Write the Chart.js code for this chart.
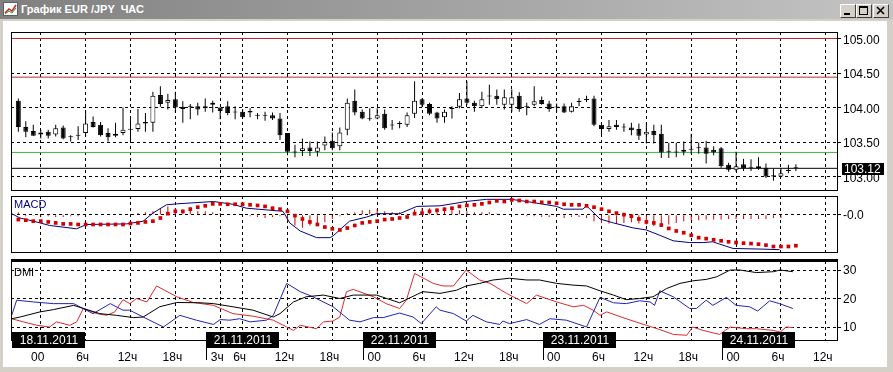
<!DOCTYPE html>
<html>
<head>
<meta charset="utf-8">
<script src="https://cdn.jsdelivr.net/npm/chart.js@4.4.0/dist/chart.umd.min.js"></script>
<style>
  html, body { margin: 0; padding: 0; }
  body { width: 893px; height: 372px; background: #d4d0c8; position: relative; overflow: hidden; font-family: "Liberation Sans", Arial, sans-serif; }
  #titlebar { position: absolute; left: 0; top: 0; width: 893px; height: 19px; background: linear-gradient(to right, #808080, #c4c4c4); }
  #titlebar .txt { position: absolute; left: 21px; top: 3px; color: #fff; font-weight: bold; font-size: 11px; white-space: pre; }
  #titlebar .ico { position: absolute; left: 3px; top: 2px; }
  .btn { position: absolute; top: 4px; width: 16px; height: 14px; box-sizing: border-box; background: #d4d0c8;
         border: 1px solid; border-color: #fff #404040 #404040 #fff; }
  .btn svg { position: absolute; left: 0; top: 0; }
  #client { position: absolute; left: 3px; top: 21px; width: 884px; height: 346px; background: #fff; }
  canvas { position: absolute; left: 0; }
</style>
</head>
<body>
<div id="titlebar">
  <svg class="ico" width="16" height="15"><rect x="0.5" y="0.5" width="14" height="13" fill="#fff" stroke="#606060"/><polyline points="2,11 6,7 9,9 13,3" fill="none" stroke="#d02020" stroke-width="1.5"/><polyline points="2,12 6,9 9,11 13,6" fill="none" stroke="#20a020" stroke-width="1"/></svg>
  <span class="txt">График EUR /JPY  ЧАС</span>
  <div class="btn" style="left:840px"><svg width="14" height="12"><rect x="3" y="8" width="6" height="2" fill="#000"/></svg></div>
  <div class="btn" style="left:856px"><svg width="14" height="12"><rect x="2.5" y="1.5" width="8" height="8" fill="none" stroke="#000"/><rect x="2" y="1" width="9" height="2" fill="#000"/></svg></div>
  <div class="btn" style="left:873px"><svg width="14" height="12"><path d="M3,2 L10,9 M10,2 L3,9" stroke="#000" stroke-width="1.6"/></svg></div>
</div>
<div id="client"></div>
<canvas id="price" width="893" height="173" style="top:22px"></canvas>
<canvas id="macd" width="893" height="64" style="top:192px"></canvas>
<canvas id="dmi" width="893" height="116" style="top:256px"></canvas>
<script>
// ---- candles (hourly bars, index 0 = first bar on the left) ----
const opens  = [104.10,103.72,103.66,103.64,103.65,103.61,103.71,103.58,103.59,103.63,103.79,103.75,103.63,103.62,103.63,103.69,103.69,103.79,103.78,104.18,
                104.07,104.12,104.01,104.01,104.02,103.99,104.07,104.00,104.02,103.94,103.94,103.95,103.88,103.88,103.89,103.84,103.63,103.36,103.37,103.42,
                103.36,103.45,103.52,103.44,103.68,104.10,103.94,103.84,103.84,103.91,103.75,103.76,103.75,103.91,104.12,104.05,103.93,103.86,103.98,104.01,
                104.13,104.07,104.02,104.16,104.17,104.04,104.04,104.17,104.01,104.04,104.11,104.06,104.00,104.02,103.94,104.08,104.11,104.13,103.75,103.69,
                103.75,103.71,103.71,103.69,103.61,103.66,103.62,103.37,103.35,103.36,103.40,103.41,103.42,103.39,103.41,103.17,103.10,103.18,103.13,103.15,
                103.13,103.02,103.00,103.08,103.12];
const highs  = [104.13,103.80,103.75,103.68,103.68,103.75,103.74,103.60,103.73,103.95,103.87,103.79,103.70,103.78,104.00,103.87,103.98,103.92,104.23,104.31,
                104.20,104.23,104.09,104.05,104.07,104.13,104.10,104.00,104.09,104.02,103.98,103.99,103.92,103.94,103.93,103.92,103.63,103.46,103.55,103.51,
                103.51,103.58,103.64,103.71,104.13,104.26,103.97,103.99,103.99,103.97,103.82,103.80,103.93,104.38,104.13,104.07,103.94,103.97,104.02,104.21,
                104.38,104.10,104.23,104.33,104.26,104.26,104.26,104.22,104.07,104.31,104.16,104.10,104.06,104.06,104.07,104.14,104.17,104.17,103.78,103.82,
                103.82,103.77,103.78,103.77,103.78,103.75,103.75,103.49,103.49,103.51,103.62,103.49,103.52,103.44,103.43,103.20,103.36,103.26,103.25,103.28,
                103.19,103.11,103.12,103.17,103.18];
const lows   = [103.65,103.57,103.59,103.55,103.55,103.58,103.54,103.51,103.53,103.58,103.71,103.58,103.51,103.57,103.60,103.50,103.65,103.65,103.65,104.01,
                103.97,103.92,103.78,103.83,103.89,103.94,103.93,103.83,103.89,103.83,103.84,103.86,103.83,103.81,103.82,103.53,103.31,103.28,103.30,103.30,
                103.29,103.38,103.38,103.38,103.60,103.89,103.83,103.81,103.83,103.68,103.68,103.70,103.72,103.85,104.01,103.89,103.78,103.78,103.84,103.99,
                104.04,103.94,103.99,104.04,104.04,103.97,103.94,103.94,103.89,104.02,104.04,103.94,103.94,103.92,103.93,104.02,104.08,103.73,103.60,103.65,
                103.68,103.65,103.60,103.53,103.48,103.48,103.27,103.27,103.28,103.31,103.33,103.33,103.19,103.31,103.13,103.07,103.07,103.08,103.08,103.10,
                102.98,102.94,102.99,103.05,103.08];
const closes = [103.72,103.65,103.59,103.61,103.59,103.70,103.55,103.57,103.60,103.77,103.72,103.60,103.57,103.59,103.68,103.68,103.77,103.77,104.17,104.05,
                104.11,104.00,103.98,104.01,103.97,104.02,104.04,103.95,103.92,103.93,103.86,103.93,103.88,103.88,103.84,103.60,103.36,103.35,103.41,103.37,
                103.42,103.50,103.41,103.64,104.07,103.93,103.84,103.83,103.89,103.70,103.74,103.77,103.89,104.10,104.04,103.91,103.84,103.94,103.99,104.12,
                104.07,104.02,104.12,104.16,104.12,104.15,104.15,103.98,104.01,104.09,104.05,103.98,104.00,103.93,104.02,104.09,104.11,103.75,103.69,103.73,
                103.72,103.71,103.67,103.59,103.65,103.60,103.35,103.36,103.35,103.39,103.39,103.41,103.33,103.35,103.15,103.10,103.15,103.12,103.13,103.12,
                103.00,103.00,103.05,103.10,103.12];

// horizontal levels on the price panel
const redLevels = [105.00, 104.44];
const greenLevels = [103.35];
const lastPrice = 103.12;
const priceTicks = [103.00, 103.50, 104.00, 104.50, 105.00];

// time axis
const timeTickIdx = [3, 9, 15, 21, 27, 30, 36, 42, 48, 54, 60, 66, 72, 78, 84, 90, 96, 102, 108];
const timeTickLabels = ['00', '6ч', '12ч', '18ч', '3ч', '6ч', '12ч', '18ч', '00', '6ч', '12ч', '18ч', '00', '6ч', '12ч', '18ч', '00', '6ч', '12ч'];
const dayStartIdx = [-0.84, 25.1, 46.1, 70.2, 94.1];
const dayLabels = ['18.11.2011', '21.11.2011', '22.11.2011', '23.11.2011', '24.11.2011'];

// MACD main line (bar position, value)
const macdX = [-0.89, 0.23, 2.0, 4.2, 7.8, 9.1, 14.5, 16.7, 18.0, 19.8, 21.2, 26.1, 28.7, 30.5, 35.4, 36.3, 37.7, 39.9, 41.7, 42.1,
               44.3, 46.6, 47.9, 51.0, 53.3, 56.4, 59.9, 62.6, 65.9, 68.0, 72.0, 72.9, 75.5, 76.0, 77.8, 79.6, 82.2, 84.0, 85.8, 87.6,
               89.8, 91.6, 92.9, 93.8, 95.6, 99.2, 101.8];
const macdY = [0.005, -0.017, -0.033, -0.055, -0.072, -0.050, -0.047, -0.033, 0.008, 0.050, 0.055, 0.067, 0.053, 0.033, 0.017, -0.042, -0.083, -0.117, -0.117, -0.108,
               -0.033, -0.012, 0.005, 0.005, 0.042, 0.045, 0.067, 0.078, 0.078, 0.067, 0.042, 0.028, 0.028, 0.045, -0.022, -0.042, -0.067, -0.078, -0.105, -0.133,
               -0.142, -0.142, -0.138, -0.150, -0.172, -0.175, -0.178];
// MACD signal (one per bar)
const signal = [-0.025,-0.028,-0.033,-0.033,-0.037,-0.042,-0.047,-0.047,-0.050,-0.050,-0.050,-0.050,-0.050,-0.050,-0.050,-0.045,-0.042,-0.037,-0.033,-0.017,
                0.005,0.017,0.017,0.028,0.038,0.045,0.055,0.055,0.053,0.053,0.053,0.050,0.047,0.042,0.033,0.028,0.017,-0.005,-0.022,-0.037,
                -0.050,-0.063,-0.072,-0.078,-0.068,-0.055,-0.042,-0.037,-0.033,-0.025,-0.022,-0.017,-0.012,0.005,0.008,0.017,0.022,0.028,0.033,0.042,
                0.047,0.050,0.055,0.062,0.070,0.067,0.075,0.072,0.067,0.067,0.063,0.062,0.058,0.053,0.050,0.050,0.045,0.038,0.028,0.017,
                0.008,0.000,-0.008,-0.022,-0.037,-0.042,-0.053,-0.070,-0.083,-0.092,-0.105,-0.117,-0.122,-0.128,-0.133,-0.138,-0.142,-0.145,-0.147,-0.150,
                -0.155,-0.162,-0.162,-0.162,-0.158];
// MACD histogram (one per bar)
const histo = [0.012,-0.008,-0.005,-0.008,-0.008,-0.012,-0.012,-0.008,-0.008,0,0,0,0,0,0,0.003,0.008,0.012,0.017,0.033,
               0.042,0.033,0.025,0.038,0.017,0.017,0.012,0.008,0,0,0,-0.008,-0.012,-0.017,-0.012,-0.008,-0.033,-0.055,-0.067,-0.055,
               -0.042,-0.038,-0.022,-0.008,0.008,0.012,0.022,0.025,0.028,0.017,0.012,0.012,0.005,0.028,0.033,0.033,0.033,0.033,0.028,0.022,
               0.017,0.012,0.012,0.012,0.005,0,0,0,-0.008,-0.008,-0.012,-0.012,-0.012,-0.017,-0.012,-0.012,-0.017,-0.033,-0.042,-0.045,
               -0.047,-0.042,-0.038,-0.045,-0.050,-0.058,-0.055,-0.050,-0.042,-0.033,-0.028,-0.028,-0.025,-0.025,-0.025,-0.022,-0.022,-0.022,-0.022,-0.022,
               -0.022,-0.017,-0.017,0,0];

// DMI: ADX (black), +DI (blue), -DI (red)
const adxX = [-0.89, 0.23, 2.9, 4.7, 7.4, 8.7, 10.9, 13.1, 15.4, 16.7, 18.9, 21.2, 24.3, 26.1, 28.7, 31.4, 34.1, 35.0, 36.8, 38.5,
              40.8, 43.0, 44.8, 47.9, 51.0, 54.1, 56.4, 58.6, 59.9, 61.7, 63.5, 65.7, 68.0, 69.7, 72.0, 74.2, 76.0, 77.8, 79.6, 81.3,
              83.1, 84.9, 86.7, 88.5, 90.2, 92.0, 93.4, 95.2, 96.5, 98.7, 101.0, 101.9, 103.6];
const adxY = [12.9, 13.5, 15.3, 16.1, 17.6, 16.5, 14.7, 14.1, 13.3, 13.5, 17.1, 18.6, 18.5, 18.2, 17.1, 15.9, 13.5, 14.7, 18.8, 20.6,
              21.2, 20.0, 21.2, 21.2, 18.5, 22.4, 21.8, 22.9, 24.4, 25.3, 26.5, 27.1, 26.5, 26.5, 25.3, 24.7, 24.4, 22.7, 21.2, 19.6,
              20.0, 20.6, 23.5, 25.3, 26.2, 26.7, 27.6, 30.0, 30.0, 29.1, 29.4, 30.0, 29.4];
const plusX = [-0.89, -0.22, 2.0, 4.7, 7.4, 9.1, 10.0, 12.3, 14.0, 14.9, 16.7, 19.4, 21.6, 23.8, 26.1, 27.0, 28.3, 29.6, 31.0, 33.2,
               34.1, 35.9, 37.7, 39.4, 42.1, 44.3, 45.7, 47.5, 48.8, 51.0, 52.8, 53.9, 55.9, 56.4, 58.2, 59.9, 60.8, 62.6, 64.4, 64.8,
               65.7, 68.0, 69.7, 71.1, 73.3, 76.0, 77.8, 79.6, 81.3, 83.1, 84.5, 85.1, 85.8, 87.6, 89.8, 90.7, 92.0, 92.9, 94.7, 96.0,
               97.8, 98.9, 100.5, 101.8, 103.6];
const plusY = [14.1, 19.4, 18.8, 18.2, 18.2, 15.9, 14.7, 18.2, 15.9, 15.9, 13.5, 10.0, 14.1, 12.4, 10.9, 12.6, 12.4, 12.9, 11.8, 12.4,
               14.1, 25.3, 22.4, 20.6, 17.1, 12.4, 11.8, 13.3, 13.3, 14.9, 13.5, 11.2, 17.1, 15.9, 14.7, 12.1, 14.1, 11.8, 10.9, 12.1,
               11.2, 12.6, 10.9, 12.9, 12.4, 10.0, 20.4, 18.5, 18.2, 19.2, 18.8, 17.6, 22.7, 20.6, 16.5, 16.5, 19.4, 17.6, 20.4, 17.6,
               17.1, 15.6, 19.2, 18.2, 16.5];
const minusX = [-0.89, 0.67, 2.5, 4.2, 5.1, 6.9, 7.8, 8.7, 10.5, 11.8, 12.9, 14.0, 14.9, 15.8, 17.2, 18.5, 21.2, 23.4, 26.1, 28.7,
                31.4, 34.1, 35.9, 36.8, 37.7, 39.9, 40.8, 42.1, 43.0, 43.9, 44.8, 47.5, 49.2, 51.0, 51.9, 53.0, 55.5, 56.8, 58.2, 59.9,
                61.7, 63.1, 65.3, 68.0, 69.3, 72.0, 74.2, 75.6, 76.9, 77.8, 78.7, 81.3, 84.0, 85.8, 87.6, 89.4, 90.2, 91.6, 93.8, 95.2,
                97.4, 98.7, 101.0, 101.9, 102.7, 103.6];
const minusY = [12.9, 11.8, 10.6, 10.0, 11.8, 10.6, 11.8, 16.5, 14.7, 14.1, 15.3, 19.6, 18.2, 20.0, 18.8, 24.4, 20.6, 18.6, 17.6, 14.7,
                13.8, 12.4, 10.0, 8.8, 10.6, 9.4, 11.8, 12.1, 13.5, 22.4, 23.2, 20.6, 18.2, 16.5, 19.4, 28.8, 25.3, 24.4, 24.4, 30.0,
                26.5, 25.3, 21.8, 18.2, 21.2, 18.8, 17.1, 17.6, 15.9, 14.1, 15.3, 12.9, 10.6, 9.1, 7.4, 7.1, 10.0, 8.8, 7.4, 10.0,
                9.4, 9.4, 8.8, 8.2, 10.0, 9.8];

const xMin = -0.98, xMax = 109.5;
const FONT = { family: 'Liberation Sans', size: 12 };

// draws the panel box, an optional thick top edge and the panel caption
const panelFrame = {
    id: 'panelFrame',
    afterDraw(chart, args, opts) {
        const { ctx, chartArea: a } = chart;
        const l = Math.round(a.left), t = Math.round(a.top), r = Math.round(a.right), b = Math.round(a.bottom);
        ctx.save();
        ctx.strokeStyle = '#000';
        ctx.lineWidth = 1;
        ctx.strokeRect(l + 0.5, t + 0.5, r - l, b - t);
        if (opts.thickTop) {
            ctx.lineWidth = 3;
            ctx.beginPath(); ctx.moveTo(l, t - 0.5); ctx.lineTo(r + 1, t - 0.5); ctx.stroke();
        }
        if (opts.caption) {
            ctx.fillStyle = opts.captionColor || '#000';
            ctx.font = '11px "Liberation Sans"';
            ctx.textBaseline = 'top';
            ctx.fillText(opts.caption, l + 3, t + (opts.captionTop || 3));
        }
        ctx.restore();
    }
};

const lastPriceTag = {
    id: 'lastPriceTag',
    afterDraw(chart) {
        const { ctx, chartArea: a } = chart;
        const y = Math.round(chart.scales.y.getPixelForValue(lastPrice));
        ctx.save();
        ctx.fillStyle = '#000';
        ctx.fillRect(a.right + 5, y - 5, 42, 12);
        ctx.fillStyle = '#fff';
        ctx.font = '12px "Liberation Sans"';
        ctx.textBaseline = 'middle';
        ctx.fillText(lastPrice.toFixed(2), a.right + 7, y + 1.5);
        ctx.restore();
    }
};

const dayBoxes = {
    id: 'dayBoxes',
    afterDraw(chart) {
        const { ctx, chartArea: a } = chart;
        const xs = chart.scales.x;
        const b = Math.round(a.bottom);
        ctx.save();
        ctx.font = '12px "Liberation Sans"';
        ctx.textBaseline = 'middle';
        ctx.textAlign = 'center';
        dayStartIdx.forEach((d, i) => {
            const left = Math.round(xs.getPixelForValue(d));
            if (i > 0) {
                ctx.strokeStyle = '#000';
                ctx.lineWidth = 1;
                ctx.beginPath(); ctx.moveTo(left + 0.5, b); ctx.lineTo(left + 0.5, b + 20); ctx.stroke();
            }
            ctx.fillStyle = '#000';
            ctx.fillRect(left, b - 8, 73, 16);
            ctx.fillStyle = '#fff';
            ctx.fillText(dayLabels[i], left + 37, b + 0.5);
        });
        ctx.restore();
    }
};

function xAxis(showLabels) {
    return {
        type: 'linear', min: xMin, max: xMax, offset: false,
        afterBuildTicks: s => { s.ticks = timeTickIdx.map(v => ({ value: v })); },
        afterFit: s => { s.height = showLabels ? 32 : 0; s.paddingLeft = 0; s.paddingRight = 0; },
        grid: { color: '#000', lineWidth: 1, drawTicks: false, offset: false },
        border: { display: false, dash: [3, 3] },
        ticks: {
            display: showLabels, autoSkip: false, maxRotation: 0, padding: 10, labelOffset: -3,
            color: '#000', font: FONT,
            callback: (v, i) => timeTickLabels[i]
        }
    };
}

function yAxis(min, max, ticks, fmt, shift) {
    return {
        position: 'right', min: min, max: max,
        afterBuildTicks: s => { s.ticks = ticks.map(v => ({ value: v })); },
        afterFit: s => { s.width = 50; s.paddingTop = 0; s.paddingBottom = 0; },
        grid: { color: '#000', lineWidth: 1, drawTicks: true, tickLength: 4, tickColor: '#000' },
        border: { display: false, dash: [3, 3] },
        ticks: { color: '#000', padding: 2, labelOffset: shift, font: FONT, callback: fmt }
    };
}

const common = {
    responsive: false,
    animation: false,
    devicePixelRatio: 1,
    events: [],
    plugins: { legend: { display: false }, tooltip: { enabled: false } }
};

const barIdx = opens.map((_, i) => i);
const levelLine = (v, color) => ({
    type: 'line', data: [{ x: xMin, y: v }, { x: xMax, y: v }],
    borderColor: color, borderWidth: 1, pointRadius: 0, order: 2
});

new Chart(document.getElementById('price'), {
    type: 'bar',
    data: {
        datasets: [
            {
                label: 'body',
                data: barIdx.map(i => ({ x: i, y: [opens[i], closes[i]] })),
                backgroundColor: barIdx.map(i => closes[i] >= opens[i] ? '#fff' : '#000'),
                borderColor: '#000', borderWidth: 1, borderSkipped: false,
                barThickness: 5, minBarLength: 1, grouped: false, inflateAmount: 0, order: 0
            },
            {
                label: 'wick',
                data: barIdx.map(i => ({ x: i, y: [lows[i], highs[i]] })),
                backgroundColor: '#000', borderWidth: 0,
                barThickness: 1, grouped: false, inflateAmount: 0, order: 1
            },
            ...redLevels.map(v => levelLine(v, '#c0262c')),
            ...greenLevels.map(v => levelLine(v, '#3cb43c')),
            levelLine(lastPrice, '#000')
        ]
    },
    options: {
        ...common,
        layout: { padding: { left: 11, right: 6, top: 10, bottom: 5 } },
        scales: {
            x: xAxis(false),
            y: yAxis(102.806, 105.094, priceTicks, v => v.toFixed(2), 2)
        },
        plugins: { ...common.plugins, panelFrame: {} }
    },
    plugins: [panelFrame, lastPriceTag]
});

new Chart(document.getElementById('macd'), {
    type: 'bar',
    data: {
        datasets: [
            {
                type: 'line', label: 'signal',
                data: signal.map((v, i) => ({ x: i, y: v })),
                showLine: false, pointStyle: 'rect', pointRadius: 2.6,
                pointBackgroundColor: '#d40000', pointBorderWidth: 0, order: 0
            },
            {
                type: 'line', label: 'macd',
                data: macdX.map((x, i) => ({ x: x, y: macdY[i] })),
                borderColor: '#000080', borderWidth: 1, pointRadius: 0, order: 1
            },
            {
                label: 'histogram',
                data: histo.map((v, i) => ({ x: i, y: v })),
                backgroundColor: '#d40000', borderWidth: 0,
                barThickness: 1, grouped: false, inflateAmount: 0, order: 2
            }
        ]
    },
    options: {
        ...common,
        layout: { padding: { left: 11, right: 6, top: 4, bottom: 3 } },
        scales: {
            x: xAxis(false),
            y: yAxis(-0.19, 0.095, [0], () => '-0.0', 1)
        },
        plugins: { ...common.plugins, panelFrame: { caption: 'MACD', captionColor: '#000080' } }
    },
    plugins: [panelFrame]
});

new Chart(document.getElementById('dmi'), {
    type: 'line',
    data: {
        datasets: [
            { label: 'ADX', data: adxX.map((x, i) => ({ x: x, y: adxY[i] })), borderColor: '#000', borderWidth: 1, pointRadius: 0 },
            { label: '+DI', data: plusX.map((x, i) => ({ x: x, y: plusY[i] })), borderColor: '#2222b8', borderWidth: 1, pointRadius: 0 },
            { label: '-DI', data: minusX.map((x, i) => ({ x: x, y: minusY[i] })), borderColor: '#dd2a30', borderWidth: 1, pointRadius: 0 }
        ]
    },
    options: {
        ...common,
        layout: { padding: { left: 11, right: 6, top: 5, bottom: 0 } },
        scales: {
            x: xAxis(true),
            y: yAxis(5.44, 33.16, [10, 20, 30], v => String(v), 1)
        },
        plugins: { ...common.plugins, panelFrame: { caption: 'DMI', captionTop: 6, thickTop: true } }
    },
    plugins: [panelFrame, dayBoxes]
});
</script>
</body>
</html>
